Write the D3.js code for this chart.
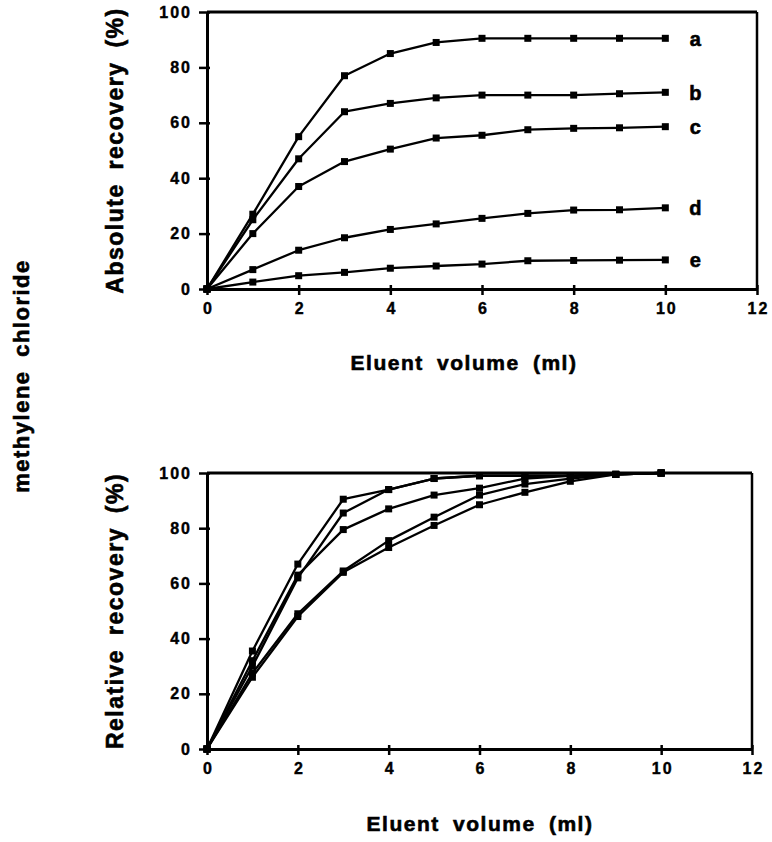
<!DOCTYPE html>
<html>
<head>
<meta charset="utf-8">
<script src="https://cdn.jsdelivr.net/npm/d3@7"></script>
<style>
  body { margin: 0; background: #fff; }
  svg text { font-family: "Liberation Sans", Arial, sans-serif; font-weight: bold; fill: #000; }
  .heavy { stroke: #000; stroke-width: 0.6px; }
</style>
</head>
<body>
<svg id="fig"></svg>
<script>
// eluent volume (ml)
const volumes = [0, 1, 2, 3, 4, 5, 6, 7, 8, 9, 10];
const seriesNames = ['a', 'b', 'c', 'd', 'e'];

// absolute recovery (%)
const absA = [0, 27, 55, 77, 85, 89, 90.5, 90.5, 90.5, 90.5, 90.5];
const absB = [0, 25, 47, 64, 67, 69, 70, 70, 70, 70.5, 71];
const absC = [0, 20, 37, 46, 50.5, 54.5, 55.5, 57.5, 58, 58.2, 58.6];
const absD = [0, 7, 14, 18.5, 21.5, 23.5, 25.5, 27.3, 28.5, 28.6, 29.3];
const absE = [0, 2.5, 4.8, 6, 7.5, 8.3, 9, 10.2, 10.3, 10.4, 10.5];

// relative recovery (%)
const relA = [0, 30, 62, 85.5, 94, 98, 99, 99, 99, 99.5, 100];
const relB = [0, 35.5, 67, 90.5, 94, 98, 99, 99, 99, 99.5, 100];
const relC = [0, 32, 63, 79.5, 87, 92, 94.5, 98, 99, 99.5, 100];
const relD = [0, 27.5, 49, 64.5, 75.5, 84, 92, 96, 98, 99.5, 100];
const relE = [0, 26, 48, 64, 73, 81, 88.5, 93, 97, 99.5, 100];

const xTicks = [0, 2, 4, 6, 8, 10, 12];
const yTicks = [0, 20, 40, 60, 80, 100];

class RecoveryChart {

    constructor( config, data ) {
        this.config = {
            parent: config.parent,
            left: config.left,
            top: config.top,
            width: config.width,
            height: config.height,
            ylabel: config.ylabel,
            xlabel: config.xlabel,
            xlabelX: config.xlabelX,
            xlabelY: config.xlabelY,
            letters: config.letters || false
        }
        this.data = data;
        this.init();
    }

    init() {
        let self = this;

        self.chart = self.config.parent.append('g')
            .attr('transform', `translate(${self.config.left}, ${self.config.top})`);

        self.xscale = d3.scaleLinear()
            .domain( [0, 12] )
            .range( [0, self.config.width] );

        self.yscale = d3.scaleLinear()
            .domain( [0, 100] )
            .range( [self.config.height, 0] );

        self.xaxis = d3.axisBottom( self.xscale )
            .tickValues( xTicks )
            .tickSize( 6 )
            .tickPadding( 8 )
            .tickSizeOuter( 0 );

        self.yaxis = d3.axisLeft( self.yscale )
            .tickValues( yTicks )
            .tickSize( 8 )
            .tickPadding( 7 )
            .tickSizeOuter( 0 );

        self.line = d3.line()
            .x( (d, i) => self.xscale( volumes[i] ) )
            .y( d => self.yscale( d ) );

        self.render();
    }

    render() {
        let self = this;
        const w = self.config.width, h = self.config.height;

        // frame: top and right
        self.chart.append('line')
            .attr('x1', 0).attr('x2', w).attr('y1', 0).attr('y2', 0)
            .attr('stroke', '#000').attr('stroke-width', 3);
        self.chart.append('line')
            .attr('x1', w).attr('x2', w).attr('y1', 0).attr('y2', h)
            .attr('stroke', '#000').attr('stroke-width', 2.5);

        const xg = self.chart.append('g')
            .attr('transform', `translate(0, ${h})`)
            .call( self.xaxis );
        const yg = self.chart.append('g')
            .call( self.yaxis );

        [xg, yg].forEach(g => {
            g.select('.domain').attr('stroke-width', 3);
            g.selectAll('.tick line').attr('stroke-width', 2.5);
            g.selectAll('.tick text')
                .attr('font-size', 16)
                .attr('class', 'heavy')
                .style('stroke-width', '0.4px')
                .style('letter-spacing', '2px')
                .attr('font-family', '"Liberation Sans", Arial, sans-serif')
                .attr('font-weight', 'bold');
        });
        xg.selectAll('.tick line').attr('y1', -4);
        xg.selectAll('.tick text').attr('dx', 1);
        yg.selectAll('.tick line').attr('x1', 3);

        self.data.forEach((vals, k) => {
            self.chart.append('path')
                .attr('d', self.line( vals ))
                .attr('fill', 'none')
                .attr('stroke', '#000')
                .attr('stroke-width', 2.3)
                .attr('stroke-linejoin', 'round');

            self.chart.selectAll(null)
                .data( vals )
                .enter()
                .append('rect')
                .attr('x', (d, i) => self.xscale( volumes[i] ) - 3.5)
                .attr('y', d => self.yscale( d ) - 3.5)
                .attr('width', 7)
                .attr('height', 7)
                .attr('fill', '#000');

            if (self.config.letters) {
                self.chart.append('text')
                    .attr('class', 'heavy')
                    .attr('x', self.xscale( 10 ) + 30)
                    .attr('y', self.yscale( vals[vals.length - 1] ))
                    .attr('dy', '0.36em')
                    .attr('text-anchor', 'middle')
                    .attr('font-size', 20)
                    .text( seriesNames[k] );
            }
        });

        self.config.parent.append('text')
            .attr('class', 'heavy')
            .attr('transform', `translate(115, ${self.config.top + h / 2}) rotate(-90)`)
            .attr('text-anchor', 'middle')
            .attr('dy', '0.36em')
            .attr('font-size', 23)
            .style('letter-spacing', '1.5px')
            .style('word-spacing', '6px')
            .text( self.config.ylabel );

        self.config.parent.append('text')
            .attr('class', 'heavy')
            .attr('x', self.config.xlabelX)
            .attr('y', self.config.xlabelY)
            .attr('text-anchor', 'middle')
            .attr('font-size', 21)
            .style('letter-spacing', '1.5px')
            .style('word-spacing', '6px')
            .text( self.config.xlabel );
    }
}

const svg = d3.select('#fig')
    .attr('width', 772)
    .attr('height', 842);

new RecoveryChart({
    parent: svg, left: 207, top: 12, width: 550, height: 277,
    ylabel: 'Absolute recovery (%)', xlabel: 'Eluent volume (ml)',
    xlabelX: 464, xlabelY: 370, letters: true
}, [absA, absB, absC, absD, absE]);

new RecoveryChart({
    parent: svg, left: 207, top: 473, width: 545, height: 276,
    ylabel: 'Relative recovery (%)', xlabel: 'Eluent volume (ml)',
    xlabelX: 480, xlabelY: 831
}, [relA, relB, relC, relD, relE]);

svg.append('text')
    .attr('class', 'heavy')
    .attr('transform', 'translate(21, 376) rotate(-90)')
    .attr('text-anchor', 'middle')
    .attr('dy', '0.36em')
    .attr('font-size', 22)
    .style('letter-spacing', '1.5px')
    .style('word-spacing', '6px')
    .text('methylene chloride');
</script>
</body>
</html>
